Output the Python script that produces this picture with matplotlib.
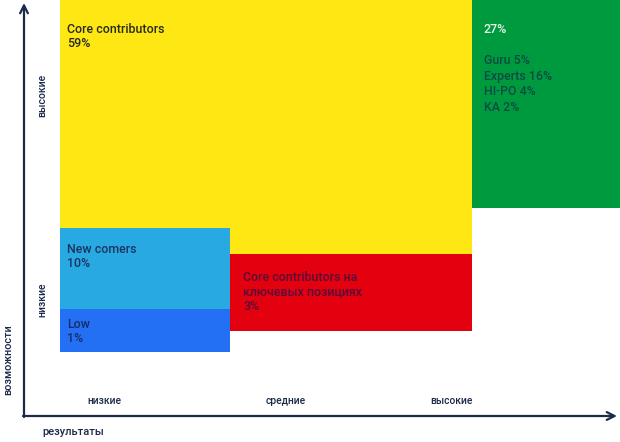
import matplotlib.pyplot as plt
from matplotlib.patches import Rectangle

# blocks of the talent matrix, in chart units (origin = axes corner, 1 unit ~ 1 px)
blocks = ['yellow', 'newcomers', 'low', 'red', 'green']
x0 = [36, 36, 36, 206, 448]
x1 = [448, 206, 206, 448, 596]
y0 = [162, 107, 64, 85, 208]
y1 = [416, 188, 107, 162, 416]
colors = ['#FFE713', '#29A9E1', '#2470F4', '#E3000F', '#009A3E']
texts = [
    ['Core contributors', '59%'],
    ['New comers', '10%'],
    ['Low', '1%'],
    ['Core contributors на', 'ключевых позициях', '3%'],
    ['27%', '', 'Guru 5%', 'Experts 16%', 'HI-PO 4%', 'KA 2%'],
]
text_colors = ['#262A1C', '#1A3462', '#182C66', '#5A0C38', '#0C4B44']
text_pad_top = [24, 16, 10, 18, 24]
text_pad_left = [7, 7, 7, 13, 12]
line_step = [14.2, 14.2, 14.2, 14.6, 15.6]

x_cats = ['низкие', 'средние', 'высокие']
x_cat_pos = [80, 262, 427]
y_cats = ['низкие', 'высокие']
y_cat_pos = [116, 321]

navy = '#1C2A4A'
plt.rcParams['font.family'] = ['Roboto', 'DejaVu Sans']

fig = plt.figure(figsize=(6.2, 4.42), dpi=100)
ax = fig.add_axes([0, 0, 1, 1])
ax.set_xlim(-24, 596)
ax.set_ylim(-26, 416)
ax.axis('off')

for i, b in enumerate(blocks):
    ax.add_patch(Rectangle((x0[i], y0[i]), x1[i] - x0[i], y1[i] - y0[i],
                           facecolor=colors[i], edgecolor='none', zorder=1))
    for j, line in enumerate(texts[i]):
        c = text_colors[i]
        if b == 'green' and j == 0:
            c = '#E8F5EC'
        ax.text(x0[i] + text_pad_left[i], y1[i] - text_pad_top[i] + 1 - j * line_step[i],
                line, color=c, fontsize=8.9, fontweight='medium', va='top',
                ha='left', zorder=3)

# axes arrows
ax.annotate('', xy=(593, 0), xytext=(-1, 0),
            arrowprops=dict(arrowstyle='->', color=navy, lw=1.6,
                            mutation_scale=14, shrinkA=0, shrinkB=0), zorder=4)
ax.annotate('', xy=(0, 413), xytext=(0, -1),
            arrowprops=dict(arrowstyle='->', color=navy, lw=1.6,
                            mutation_scale=14, shrinkA=0, shrinkB=0), zorder=4)

for lab, p in zip(x_cats, x_cat_pos):
    ax.text(p, 15, lab, color=navy, fontsize=7.4, fontweight='medium',
            ha='center', va='center')
for lab, p in zip(y_cats, y_cat_pos):
    ax.text(18, p, lab, color=navy, fontsize=7.6, fontweight='medium',
            ha='center', va='center', rotation=90)

ax.text(18, -16, 'результаты', color=navy, fontsize=8, fontweight='medium',
        ha='left', va='center')
ax.text(-16, 56, 'возможности', color=navy, fontsize=7.8, fontweight='medium',
        ha='center', va='center', rotation=90)

fig.savefig('out.png', dpi=100)
